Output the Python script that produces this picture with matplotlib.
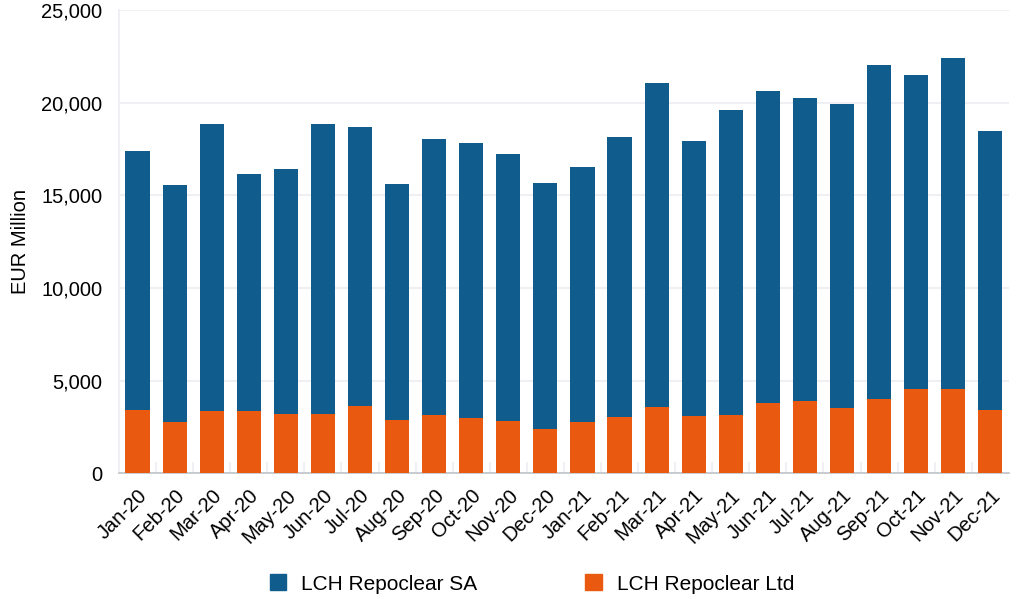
import matplotlib.pyplot as plt
import numpy as np
from matplotlib.ticker import FuncFormatter
from matplotlib.patches import Patch
from matplotlib.transforms import ScaledTranslation

plt.rcParams['font.family'] = ['Liberation Sans', 'DejaVu Sans']

months = ['Jan-20', 'Feb-20', 'Mar-20', 'Apr-20', 'May-20', 'Jun-20',
          'Jul-20', 'Aug-20', 'Sep-20', 'Oct-20', 'Nov-20', 'Dec-20',
          'Jan-21', 'Feb-21', 'Mar-21', 'Apr-21', 'May-21', 'Jun-21',
          'Jul-21', 'Aug-21', 'Sep-21', 'Oct-21', 'Nov-21', 'Dec-21']

# EUR million
repoclear_ltd = [3400, 2750, 3340, 3340, 3180, 3180, 3610, 2860, 3130, 2970, 2800, 2370,
                 2750, 3020, 3560, 3070, 3130, 3780, 3880, 3500, 3990, 4530, 4530, 3400]
repoclear_sa = [13970, 12830, 15490, 12790, 13220, 15650, 15060, 12780, 14890, 14840, 14410, 13320,
                13810, 15110, 17500, 14840, 16460, 16840, 16360, 16420, 18040, 16960, 17880, 15060]

blue = '#0f5c8d'
orange = '#e95a10'

fig = plt.figure(figsize=(10.17, 5.99), dpi=100)
ax = fig.add_axes([0.117, 0.21, 0.875, 0.773])

x = np.arange(len(months))
ax.bar(x, repoclear_ltd, width=0.65, color=orange, zorder=3)
ax.bar(x, repoclear_sa, width=0.65, bottom=repoclear_ltd, color=blue, zorder=3)

ax.set_xlim(-0.5, len(months) - 0.5)
ax.set_ylim(0, 25000)
ax.set_yticks(range(0, 25001, 5000))
ax.yaxis.set_major_formatter(FuncFormatter(lambda v, p: f'{int(v):,}'))
ax.grid(axis='y', color='#eef0f3', linewidth=1.5, zorder=0)

ax.set_xticks(x)
ax.set_xticklabels(months, rotation=45, ha='right', rotation_mode='anchor', fontsize=14.5)
shift = ScaledTranslation(12 / 100, 0, fig.dpi_scale_trans)
for lbl in ax.get_xticklabels():
    lbl.set_transform(lbl.get_transform() + shift)
ax.set_xticks(x[:-1] + 0.5, minor=True)
ax.tick_params(axis='x', which='major', length=0, pad=9)
ax.tick_params(axis='x', which='minor', length=8, direction='in', color='#eef0f3', width=1.5)
ax.tick_params(axis='y', length=0, labelsize=14.5, pad=12)

for s in ['top', 'right']:
    ax.spines[s].set_visible(False)
ax.spines['left'].set_color('#eef0f3')
ax.spines['left'].set_linewidth(1.5)
ax.spines['bottom'].set_color('#c0c3c8')
ax.spines['bottom'].set_linewidth(1.2)

ax.set_ylabel('EUR Million', fontsize=14.5)
ax.yaxis.set_label_coords(-0.1, 0.5)

handles = [Patch(color=blue, label='LCH Repoclear SA'),
           Patch(color=orange, label='LCH Repoclear Ltd')]
fig.legend(handles=handles, loc='center', bbox_to_anchor=(0.523, 0.025), ncol=2,
           frameon=False, fontsize=15, handlelength=0.8, handleheight=0.8,
           columnspacing=5.2, handletextpad=0.7)

fig.savefig('out.png', dpi=100)
